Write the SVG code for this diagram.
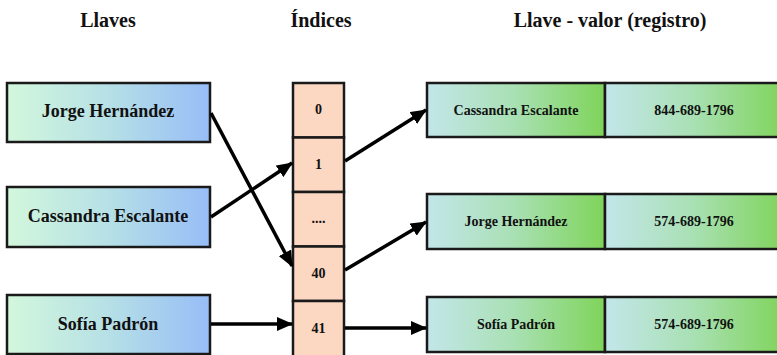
<svg xmlns="http://www.w3.org/2000/svg" width="777" height="355" viewBox="0 0 777 355">
<defs>
<linearGradient id="gKey" x1="0" y1="0" x2="1" y2="0">
<stop offset="0" stop-color="#d3f7dc"/>
<stop offset="0.5" stop-color="#b6e0e6"/>
<stop offset="1" stop-color="#97bdf7"/>
</linearGradient>
<linearGradient id="gVal" x1="0" y1="0" x2="1" y2="0">
<stop offset="0" stop-color="#c3e6ea"/>
<stop offset="0.5" stop-color="#a8e0b2"/>
<stop offset="1" stop-color="#7fd45a"/>
</linearGradient>
<marker id="arr" markerUnits="userSpaceOnUse" markerWidth="16" markerHeight="14" refX="15" refY="7" orient="auto">
<path d="M0,0 L16,7 L0,14 z" fill="#000"/>
</marker>
</defs>
<style>
.key{fill:url(#gKey);stroke:#1a1a1a;stroke-width:2.5}
.val{fill:url(#gVal);stroke:#1a1a1a;stroke-width:2.5}
.idx{fill:#fcd7c2;stroke:#1a1a1a;stroke-width:2.5}
.t{font-family:"Liberation Serif","Times New Roman",serif;font-weight:bold;fill:#111;text-anchor:middle}
.title{font-size:20px}
.kt{font-size:18px}
.it{font-size:14px}
.vt{font-size:14px}
.conn line{stroke:#000;stroke-width:3.5;marker-end:url(#arr)}
</style>
<rect width="777" height="355" fill="#fff"/>
<g id="titles">
<text class="t title" x="108" y="27">Llaves</text>
<text class="t title" x="321" y="27">Índices</text>
<text class="t title" x="610" y="27">Llave - valor (registro)</text>
</g>
<g id="key-jorge">
<rect class="key" x="7" y="83" width="203" height="59"/>
<text class="t kt" x="108" y="117">Jorge Hernández</text>
</g>
<g id="key-cassandra">
<rect class="key" x="7" y="187" width="203" height="60"/>
<text class="t kt" x="108" y="222">Cassandra Escalante</text>
</g>
<g id="key-sofia">
<rect class="key" x="7" y="295" width="203" height="59"/>
<text class="t kt" x="108" y="330">Sofía Padrón</text>
</g>
<g id="idx-0">
<rect class="idx" x="293" y="83" width="51" height="54.5"/>
<text class="t it" x="318.5" y="114">0</text>
</g>
<g id="idx-1">
<rect class="idx" x="293" y="137.5" width="51" height="54.5"/>
<text class="t it" x="318.5" y="169">1</text>
</g>
<g id="idx-dots">
<rect class="idx" x="293" y="192" width="51" height="54.5"/>
<text class="t it" x="318.5" y="223">....</text>
</g>
<g id="idx-40">
<rect class="idx" x="293" y="246.5" width="51" height="54.5"/>
<text class="t it" x="318.5" y="278">40</text>
</g>
<g id="idx-41">
<rect class="idx" x="293" y="301" width="51" height="56"/>
<text class="t it" x="318.5" y="333">41</text>
</g>
<g id="rec-cassandra">
<rect class="val" x="427" y="83" width="178" height="54"/>
<rect class="val" x="605" y="83" width="180" height="54"/>
<text class="t vt" x="516" y="114.5">Cassandra Escalante</text>
<text class="t vt" x="694" y="114.5">844-689-1796</text>
</g>
<g id="rec-jorge">
<rect class="val" x="427" y="194" width="178" height="55"/>
<text class="t vt" x="516" y="226">Jorge Hernández</text>
<rect class="val" x="605" y="194" width="180" height="55"/>
<text class="t vt" x="694" y="226">574-689-1796</text>
</g>
<g id="rec-sofia">
<rect class="val" x="427" y="297" width="178" height="55"/>
<text class="t vt" x="516" y="329">Sofía Padrón</text>
<rect class="val" x="605" y="297" width="180" height="55"/>
<text class="t vt" x="694" y="329">574-689-1796</text>
</g>
<g id="connectors" class="conn">
<line x1="211" y1="113" x2="292" y2="266"/>
<line x1="211" y1="217" x2="292" y2="163"/>
<line x1="211" y1="324" x2="292" y2="324"/>
<line x1="345" y1="161" x2="426" y2="110"/>
<line x1="345" y1="270" x2="426" y2="222"/>
<line x1="345" y1="328" x2="426" y2="328"/>
</g>
</svg>
